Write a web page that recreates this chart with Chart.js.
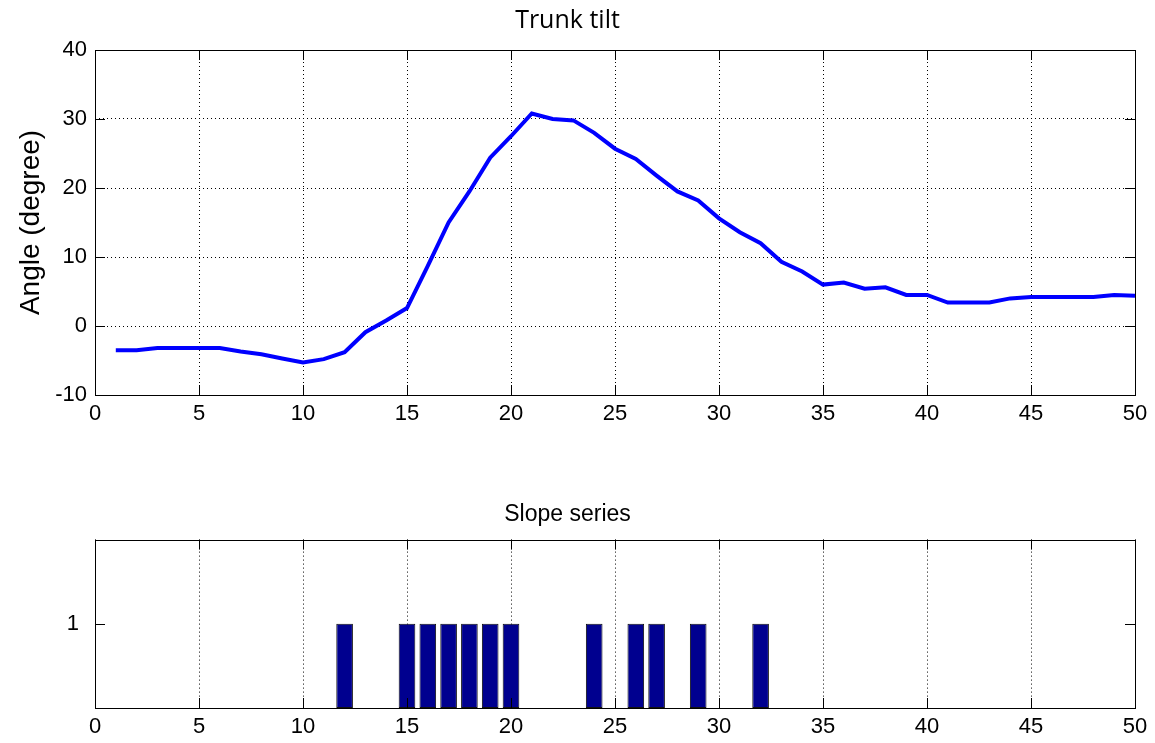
<!DOCTYPE html>
<html lang="en">
<head>
  <meta charset="UTF-8">
  <title>Trunk tilt</title>
  <script src="https://cdn.jsdelivr.net/npm/chart.js"></script>
  <style>
    body { margin: 0; background: #fff; }
    .panel { position: absolute; left: 0; width: 1155px; }
    #top { top: 0; height: 430px; }
    #bottom { top: 480px; height: 263px; }
  </style>
</head>
<body>
  <div class="panel" id="top"><canvas id="graficoTilt"></canvas></div>
  <div class="panel" id="bottom"><canvas id="graficoSlope"></canvas></div>

  <script>
    // datos
    const frames = [1, 2, 3, 4, 5, 6, 7, 8, 9, 10, 11, 12, 13, 14, 15, 16, 17, 18, 19, 20,
      21, 22, 23, 24, 25, 26, 27, 28, 29, 30, 31, 32, 33, 34, 35, 36, 37, 38, 39, 40,
      41, 42, 43, 44, 45, 46, 47, 48, 49, 50];
    const tilt = [-3.5, -3.5, -3.2, -3.2, -3.2, -3.2, -3.7, -4.1, -4.7, -5.3,
      -4.8, -3.8, -0.9, 0.8, 2.6, 8.7, 15.0, 19.5, 24.4, 27.5,
      30.8, 30.0, 29.8, 28.0, 25.7, 24.2, 21.8, 19.5, 18.2, 15.6,
      13.6, 12.0, 9.3, 7.9, 6.0, 6.3, 5.4, 5.6, 4.5, 4.5,
      3.4, 3.4, 3.4, 4.0, 4.2, 4.2, 4.2, 4.2, 4.5, 4.4];
    const slopeFrames = [12, 15, 16, 17, 18, 19, 20, 24, 26, 27, 29, 32];
    const slopeValues = [1, 1, 1, 1, 1, 1, 1, 1, 1, 1, 1, 1];
    const xTicks = [0, 5, 10, 15, 20, 25, 30, 35, 40, 45, 50];
    const tiltTicks = [-10, 0, 10, 20, 30, 40];
    const slopeTicks = [1];

    const FUENTE = "'Liberation Sans', Arial, sans-serif";
    Chart.defaults.color = '#000';
    Chart.defaults.font.family = FUENTE;
    Chart.defaults.font.size = 22;

    // marco y ticks hacia adentro al estilo matlab
    const marco = {
      id: 'marco',
      afterDatasetsDraw(chart) {
        const { ctx, chartArea: a, scales } = chart;
        const L = 10;
        ctx.save();
        ctx.strokeStyle = '#000';
        ctx.lineWidth = 1;
        ctx.setLineDash([]);
        ctx.beginPath();
        scales.x.ticks.forEach(t => {
          const px = Math.round(scales.x.getPixelForValue(t.value)) + 0.5;
          ctx.moveTo(px, a.bottom); ctx.lineTo(px, a.bottom - L);
          ctx.moveTo(px, a.top); ctx.lineTo(px, a.top + L);
        });
        scales.y.ticks.forEach(t => {
          const py = Math.round(scales.y.getPixelForValue(t.value)) + 0.5;
          ctx.moveTo(a.left, py); ctx.lineTo(a.left + L, py);
          ctx.moveTo(a.right, py); ctx.lineTo(a.right - L, py);
        });
        ctx.stroke();
        ctx.strokeRect(Math.round(a.left) + 0.5, Math.round(a.top) + 0.5,
          Math.round(a.right - a.left), Math.round(a.bottom - a.top));
        ctx.restore();
      }
    };

    const gridPunteada = {
      display: true,
      color: '#000',
      lineWidth: 1,
      drawTicks: false,
      offset: false
    };
    const bordePunteado = { display: false, dash: [1, 3] };

    function ejeX() {
      return {
        type: 'linear',
        min: 0,
        max: 50,
        offset: false,
        afterBuildTicks: s => { s.ticks = xTicks.map(v => ({ value: v })); },
        afterFit: s => { s.height = 35; },
        ticks: { padding: 6, maxRotation: 0, autoSkip: false },
        grid: gridPunteada,
        border: bordePunteado
      };
    }

    // grafico superior
    new Chart(document.getElementById('graficoTilt'), {
      type: 'line',
      data: {
        datasets: [{
          data: frames.map((f, i) => ({ x: f, y: tilt[i] })),
          borderColor: '#0000ff',
          borderWidth: 4,
          pointRadius: 0,
          tension: 0,
          fill: false
        }]
      },
      options: {
        responsive: true,
        maintainAspectRatio: false,
        animation: false,
        layout: { padding: { left: 0, right: 20, top: 0, bottom: 0 } },
        plugins: {
          legend: { display: false },
          tooltip: { enabled: false },
          title: {
            display: true,
            text: 'Trunk tilt',
            font: { family: "'Open Sans', sans-serif", size: 25, weight: 'normal' },
            padding: { top: 6, bottom: 14 }
          }
        },
        scales: {
          x: ejeX(),
          y: {
            min: -10,
            max: 40,
            afterBuildTicks: s => { s.ticks = tiltTicks.map(v => ({ value: v })); },
            afterFit: s => { s.width = 95; },
            ticks: { padding: 8 },
            grid: gridPunteada,
            border: bordePunteado,
            title: {
              display: true,
              text: 'Angle (degree)',
              font: { size: 28 },
              padding: { top: 14, bottom: 0 }
            }
          }
        }
      },
      plugins: [marco]
    });

    // grafico inferior
    new Chart(document.getElementById('graficoSlope'), {
      type: 'bar',
      data: {
        datasets: [{
          data: slopeFrames.map((f, i) => ({ x: f, y: slopeValues[i] })),
          backgroundColor: '#00008f',
          borderColor: '#111',
          borderWidth: 1,
          borderSkipped: false,
          barPercentage: 0.8,
          categoryPercentage: 1.0
        }]
      },
      options: {
        responsive: true,
        maintainAspectRatio: false,
        animation: false,
        layout: { padding: { left: 0, right: 20, top: 0, bottom: 0 } },
        plugins: {
          legend: { display: false },
          tooltip: { enabled: false },
          title: {
            display: true,
            text: 'Slope series',
            font: { size: 23, weight: 'normal' },
            padding: { top: 21, bottom: 11 }
          }
        },
        scales: {
          x: ejeX(),
          y: {
            min: 0,
            max: 2,
            afterBuildTicks: s => { s.ticks = slopeTicks.map(v => ({ value: v })); },
            afterFit: s => { s.width = 95; },
            ticks: { padding: 8 },
            grid: { display: false },
            border: { display: false }
          }
        }
      },
      plugins: [marco]
    });
  </script>
</body>
</html>
